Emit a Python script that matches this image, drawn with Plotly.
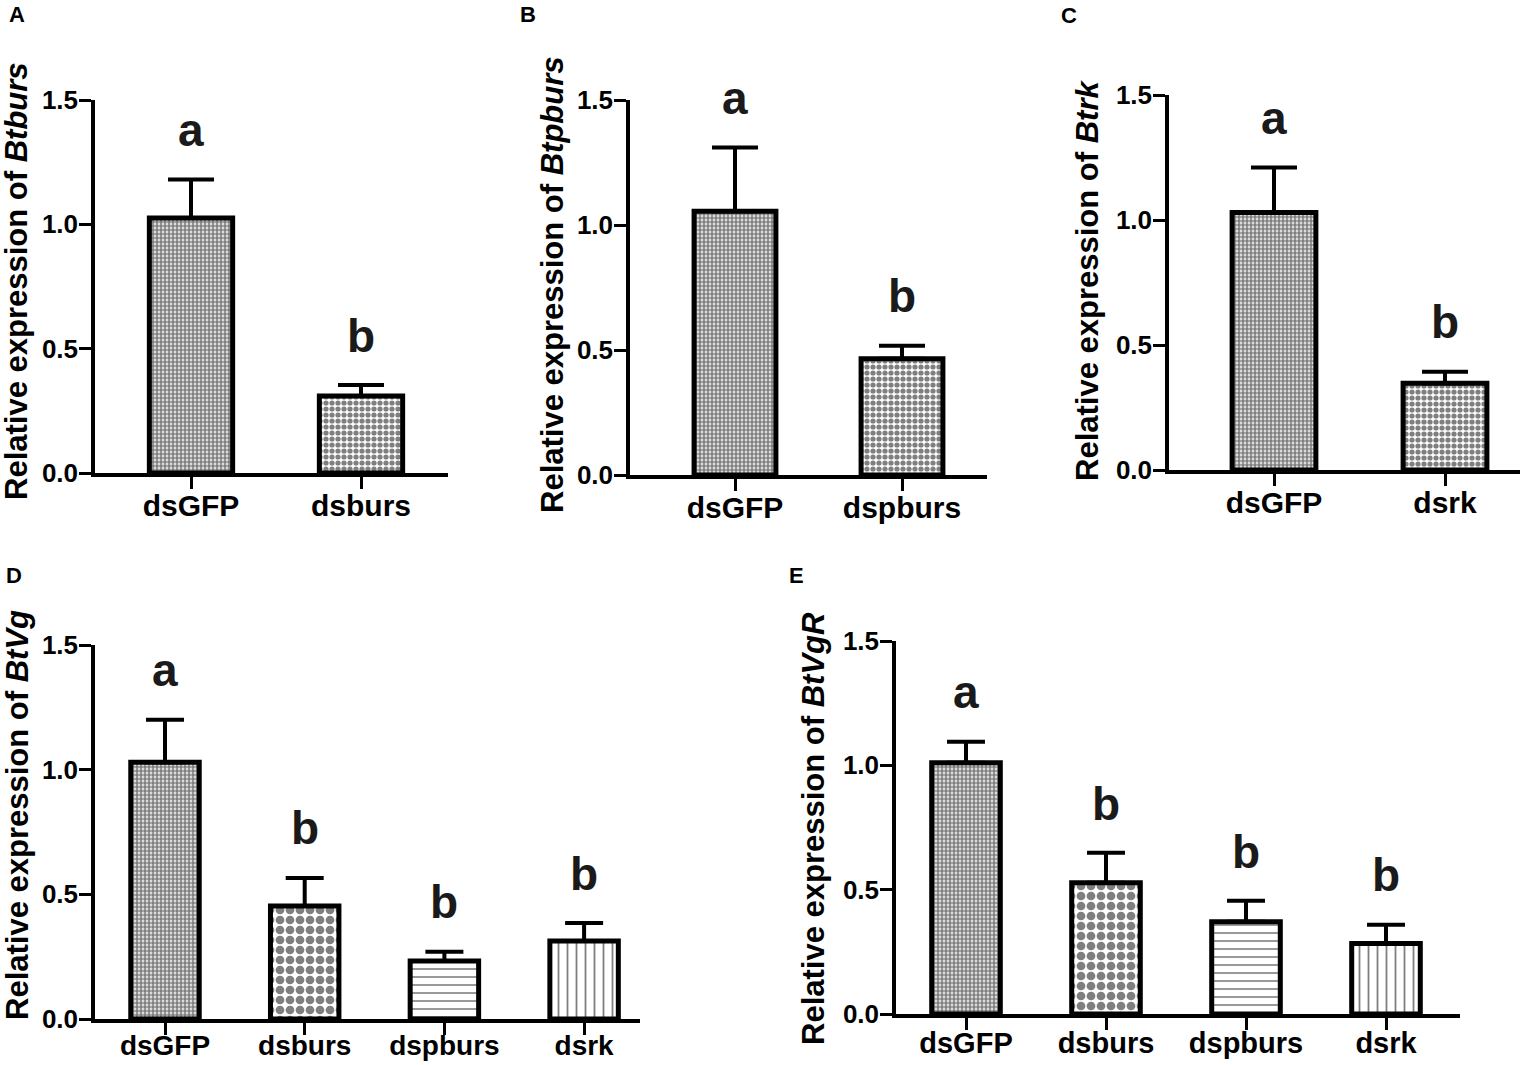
import plotly.graph_objects as go

W, H = 1531, 1065

# ---- data ----
a_groups = ["dsGFP", "dsburs"]
a_mean = [1.025, 0.31]
a_err = [0.155, 0.044]
a_sig = ["a", "b"]

b_groups = ["dsGFP", "dspburs"]
b_mean = [1.055, 0.465]
b_err = [0.255, 0.052]
b_sig = ["a", "b"]

c_groups = ["dsGFP", "dsrk"]
c_mean = [1.03, 0.347]
c_err = [0.18, 0.046]
c_sig = ["a", "b"]

de_groups = ["dsGFP", "dsburs", "dspburs", "dsrk"]
d_mean = [1.03, 0.453, 0.233, 0.313]
d_err = [0.17, 0.113, 0.037, 0.072]
d_sig = ["a", "b", "b", "b"]

e_mean = [1.01, 0.528, 0.371, 0.284]
e_err = [0.085, 0.12, 0.084, 0.075]
e_sig = ["a", "b", "b", "b"]

y_ticks = [0, 0.5, 1.0, 1.5]
y_ticktext = ["0.0", "0.5", "1.0", "1.5"]

# fill patterns (shape, size, solidity)
FINE = (".", 4, 0.7)
MED = (".", 6, 0.6)
COARSE = (".", 10, 0.6)
HLINE = ("-", 8, 0.2)
VLINE = ("|", 9, 0.2)

FONT = "Liberation Sans, Arial, sans-serif"

# panel layout in pixels: axis left, right, top(1.5), bottom(0), first bar centre, bar spacing
panels = [
    dict(tag="A", gene="Btburs", x=a_groups, m=a_mean, e=a_err, s=a_sig, pat=[FINE, MED],
         px=(95, 448, 100, 473, 191, 170), cap=23, title_xy=(17, 281), tag_xy=(7, 0),
         xfont=30, xpad=-9),
    dict(tag="B", gene="Btpburs", x=b_groups, m=b_mean, e=b_err, s=b_sig, pat=[FINE, MED],
         px=(630, 987, 100, 475, 735, 167), cap=23, title_xy=(552, 285), tag_xy=(518, 0),
         xfont=30, xpad=-9),
    dict(tag="C", gene="Btrk", x=c_groups, m=c_mean, e=c_err, s=c_sig, pat=[FINE, MED],
         px=(1169, 1520, 95, 470, 1274, 171), cap=23, title_xy=(1088, 281), tag_xy=(1059, 1),
         xfont=30, xpad=-9),
    dict(tag="D", gene="BtVg", x=de_groups, m=d_mean, e=d_err, s=d_sig,
         pat=[FINE, COARSE, HLINE, VLINE],
         px=(95, 640, 645, 1019, 165, 139.7), cap=19, title_xy=(17, 815), tag_xy=(4, 561),
         xfont=28, xpad=-13),
    dict(tag="E", gene="BtVgR", x=de_groups, m=e_mean, e=e_err, s=e_sig,
         pat=[FINE, COARSE, HLINE, VLINE],
         px=(896, 1460, 641, 1014, 966, 140), cap=19, title_xy=(813, 829), tag_xy=(787, 561),
         xfont=29, xpad=-12),
]

fig = go.Figure()
annotations = []

for i, p in enumerate(panels):
    k = "" if i == 0 else str(i + 1)
    left, right, top, bottom, c0, step = p["px"]
    n = len(p["x"])

    fig.add_trace(go.Bar(
        x=p["x"], y=p["m"],
        xaxis="x" + k, yaxis="y" + k,
        width=0.49,
        marker=dict(
            color="white",
            line=dict(color="black", width=5),
            pattern=dict(
                shape=[q[0] for q in p["pat"]],
                size=[q[1] for q in p["pat"]],
                solidity=[q[2] for q in p["pat"]],
                fgcolor="black", bgcolor="white",
            ),
        ),
        error_y=dict(type="data", array=p["e"], arrayminus=[0] * n, symmetric=False,
                     color="black", thickness=4, width=p["cap"]),
        showlegend=False,
        hoverinfo="x+y",
    ))

    fig.layout["xaxis" + k] = dict(
        domain=[left / W, right / W],
        range=[-(c0 - left) / step, (right - c0) / step],
        type="category", anchor="y" + k,
        showline=True, linecolor="black", linewidth=3.5,
        ticks="outside", ticklen=12, tickwidth=3, tickcolor="black",
        ticklabelstandoff=p["xpad"],
        tickfont=dict(family=FONT, size=p["xfont"], color="black", weight="bold"),
        showgrid=False, zeroline=False, fixedrange=True,
    )
    fig.layout["yaxis" + k] = dict(
        domain=[1 - bottom / H, 1 - top / H],
        range=[0, 1.5], anchor="x" + k,
        tickvals=y_ticks, ticktext=y_ticktext,
        showline=True, linecolor="black", linewidth=3.5,
        ticks="outside", ticklen=12, tickwidth=3, tickcolor="black",
        ticklabelstandoff=-4,
        tickfont=dict(family=FONT, size=26, color="black", weight="bold"),
        showgrid=False, zeroline=False, fixedrange=True,
    )

    # significance letters
    for cat, m, e, s in zip(p["x"], p["m"], p["e"], p["s"]):
        annotations.append(dict(
            x=cat, y=m + e + 0.13, xref="x" + k, yref="y" + k,
            text=s, showarrow=False, yanchor="bottom", yshift=-11,
            font=dict(family=FONT, size=46, color="#1a1a1a", weight="bold"),
        ))

    # y-axis title
    tx, ty = p["title_xy"]
    annotations.append(dict(
        x=tx / W, y=1 - ty / H, xref="paper", yref="paper",
        text="Relative expression of <i>%s</i>" % p["gene"],
        textangle=-90, showarrow=False, xanchor="center", yanchor="middle",
        font=dict(family=FONT, size=31, color="black", weight="bold"),
    ))

    # panel tag
    gx, gy = p["tag_xy"]
    annotations.append(dict(
        x=gx / W, y=1 - gy / H, xref="paper", yref="paper",
        text=p["tag"], showarrow=False, xanchor="left", yanchor="top",
        font=dict(family=FONT, size=22, color="black", weight="bold"),
    ))

fig.update_layout(
    width=W, height=H,
    margin=dict(l=0, r=0, t=0, b=0, autoexpand=False),
    paper_bgcolor="white", plot_bgcolor="white",
    annotations=annotations,
)

# page body margin would push the fixed-size figure off the window
fig.write_html("out.html", post_script="document.body.style.margin='0';",
               config=dict(displayModeBar=False))
